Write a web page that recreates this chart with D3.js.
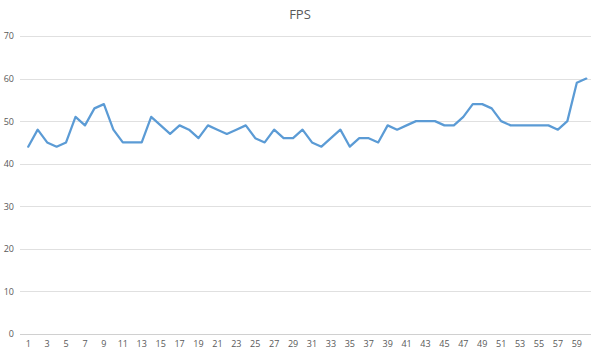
<!DOCTYPE html>
<html>
<head>
<meta charset="utf-8">
<script src="https://cdn.jsdelivr.net/npm/d3@7"></script>
<style>
  html, body { margin: 0; padding: 0; background: #fff; }
  svg { display: block; }
</style>
</head>
<body>
<svg id="chart" width="600" height="356"></svg>
<script>
const title = "FPS";
const categories = d3.range(1, 61);
const fpsValues = [44, 48, 45, 44, 45, 51, 49, 53, 54, 48,
                   45, 45, 45, 51, 49, 47, 49, 48, 46, 49,
                   48, 47, 48, 49, 46, 45, 48, 46, 46, 48,
                   45, 44, 46, 48, 44, 46, 46, 45, 49, 48,
                   49, 50, 50, 50, 49, 49, 51, 54, 54, 53,
                   50, 49, 49, 49, 49, 49, 48, 50, 59, 60];
const yTicks = [0, 10, 20, 30, 40, 50, 60, 70];
const xTickLabels = categories.filter(d => d % 2 === 1);

const svg = d3.select("#chart");
const margin = {left: 20, right: 9, top: 36, bottom: 22};
const W = 600, H = 356;

const x = d3.scaleBand().domain(categories).range([margin.left + 3.5, W - margin.right]);
const y = d3.scaleLinear().domain([0, 70]).range([H - margin.bottom, margin.top]);
const font = "'Open Sans', 'Noto Sans', sans-serif";

// gridlines
svg.append("g")
  .selectAll("line").data(yTicks).join("line")
  .attr("x1", margin.left).attr("x2", W - margin.right)
  .attr("y1", d => Math.round(y(d)) + 0.5).attr("y2", d => Math.round(y(d)) + 0.5)
  .attr("stroke", d => d === 0 ? "#d0d0d0" : "#e0e0e0").attr("stroke-width", 1);

// y axis labels
const yAxis = d3.axisLeft(y).tickValues(yTicks).tickSize(0).tickPadding(0);
const gy = svg.append("g").attr("transform", `translate(14,0)`).call(yAxis);
gy.select(".domain").remove();
gy.selectAll("text").attr("fill", "#595959").attr("font-size", 9).attr("font-family", font);

// x axis labels
const xAxis = d3.axisBottom(x).tickValues(xTickLabels).tickSize(0).tickPadding(7);
const gx = svg.append("g").attr("transform", `translate(0,${H - margin.bottom})`).call(xAxis);
gx.select(".domain").remove();
gx.selectAll("text").attr("fill", "#595959").attr("font-size", 9).attr("font-family", font);

// line
const line = d3.line()
  .x((d, i) => x(categories[i]) + x.bandwidth() / 2)
  .y(d => y(d));
svg.append("path").datum(fpsValues)
  .attr("d", line)
  .attr("fill", "none")
  .attr("stroke", "#5b9bd5")
  .attr("stroke-width", 2.25)
  .attr("stroke-linejoin", "round")
  .attr("stroke-linecap", "round");

// title
svg.append("text").attr("x", 300).attr("y", 19)
  .attr("text-anchor", "middle")
  .attr("font-family", font).attr("font-size", 13)
  .attr("fill", "#595959").text(title);
</script>
</body>
</html>
